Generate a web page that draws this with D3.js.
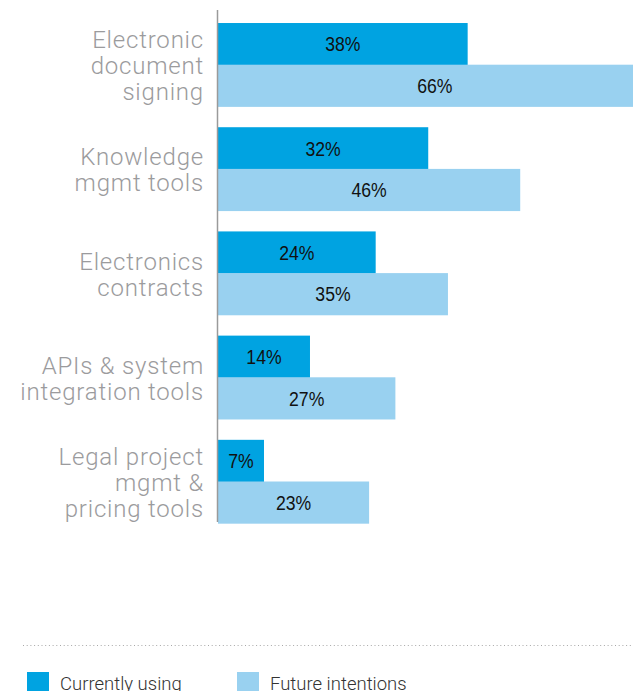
<!DOCTYPE html>
<html>
<head>
<meta charset="utf-8">
<script src="https://cdn.jsdelivr.net/npm/d3@7"></script>
<style>
  html, body { margin: 0; padding: 0; background: #fff; }
  svg { display: block; }
</style>
</head>
<body>
<svg id="chart" width="633" height="691"></svg>
<script>
// Adoption of legal technology tools (% of respondents)
const categories = [
  "Electronic document signing",
  "Knowledge mgmt tools",
  "Electronics contracts",
  "APIs & system integration tools",
  "Legal project mgmt & pricing tools"
];
const categoryLines = [
  ["Electronic", "document", "signing"],
  ["Knowledge", "mgmt tools"],
  ["Electronics", "contracts"],
  ["APIs & system", "integration tools"],
  ["Legal project", "mgmt &", "pricing tools"]
];
const seriesNames = ["Currently using", "Future intentions"];
const currentlyUsing = [38, 32, 24, 14, 7];
const futureIntentions = [66, 46, 35, 27, 23];
const seriesColors = ["#00a3e1", "#99d1f0"];

const svg = d3.select("#chart");
const W = 633, H = 691;

const x = d3.scaleLinear().domain([0, 100]).range([218, 218 + 657]);
const y = d3.scaleBand().domain(categories).range([12.6, 533.6])
  .paddingInner(0.2).paddingOuter(0.1);
const ySub = d3.scaleBand().domain(seriesNames).range([0, y.bandwidth()]);
const color = d3.scaleOrdinal().domain(seriesNames).range(seriesColors);

svg.append("defs").append("clipPath").attr("id", "plot-clip")
  .append("rect").attr("x", 0).attr("y", 0).attr("width", W).attr("height", H);

const rows = categories.map((c, i) => ({
  cat: c,
  lines: categoryLines[i],
  values: [
    { series: seriesNames[0], value: currentlyUsing[i] },
    { series: seriesNames[1], value: futureIntentions[i] }
  ]
}));

const groups = svg.append("g").attr("clip-path", "url(#plot-clip)")
  .selectAll("g.row").data(rows).join("g")
  .attr("class", "row")
  .attr("transform", d => `translate(0,${y(d.cat)})`);

groups.selectAll("rect").data(d => d.values).join("rect")
  .attr("x", x(0))
  .attr("y", d => ySub(d.series))
  .attr("width", d => x(d.value) - x(0))
  .attr("height", ySub.bandwidth() + 0.5)
  .attr("fill", d => color(d.series));

// Value labels in a condensed face (horizontally compressed)
groups.selectAll("text.val").data(d => d.values).join("text")
  .attr("class", "val")
  .attr("transform", d =>
    `translate(${(x(0) + x(d.value)) / 2},${ySub(d.series) + ySub.bandwidth() / 2 + 7.5}) scale(0.84,1)`)
  .attr("text-anchor", "middle")
  .style("font-family", "'Liberation Sans', Arial, sans-serif")
  .style("font-size", "21px")
  .style("fill", "#111")
  .text(d => d.value + "%");

// Category labels, right-aligned against the axis
const lineH = 26;
svg.append("g").selectAll("text.cat").data(rows).join("text")
  .attr("class", "cat")
  .attr("text-anchor", "end")
  .style("font-family", "Roboto, 'Liberation Sans', sans-serif")
  .style("font-weight", 300)
  .style("font-size", "24px")
  .style("letter-spacing", "0.8px")
  .style("fill", "#9b9b9d")
  .each(function(d) {
    const cy = y(d.cat) + y.bandwidth() / 2;
    const first = cy + 9.5 - lineH * (d.lines.length - 1) / 2;
    d3.select(this).selectAll("tspan").data(d.lines).join("tspan")
      .attr("x", 204)
      .attr("y", (t, j) => first + j * lineH)
      .text(t => t);
  });

// Vertical axis line
svg.append("line")
  .attr("x1", 217.5).attr("x2", 217.5)
  .attr("y1", 10).attr("y2", 522)
  .attr("stroke", "#9a9a9a").attr("stroke-width", 1.5);

// Dotted separator
svg.append("line")
  .attr("x1", 23).attr("x2", W)
  .attr("y1", 645.5).attr("y2", 645.5)
  .attr("stroke", "#a8a8a8").attr("stroke-width", 1)
  .attr("stroke-dasharray", "1,2.7");

// Legend
const legendX = [27, 237];
const legend = svg.append("g").selectAll("g").data(seriesNames).join("g")
  .attr("transform", (d, i) => `translate(${legendX[i]},672)`);
legend.append("rect")
  .attr("width", 22).attr("height", 22)
  .attr("fill", d => color(d));
legend.append("text")
  .attr("x", 33).attr("y", 17.5)
  .style("font-family", "Roboto, 'Liberation Sans', sans-serif")
  .style("font-weight", 300)
  .style("font-size", "18.5px")
  .style("fill", "#333")
  .text(d => d);
</script>
</body>
</html>
